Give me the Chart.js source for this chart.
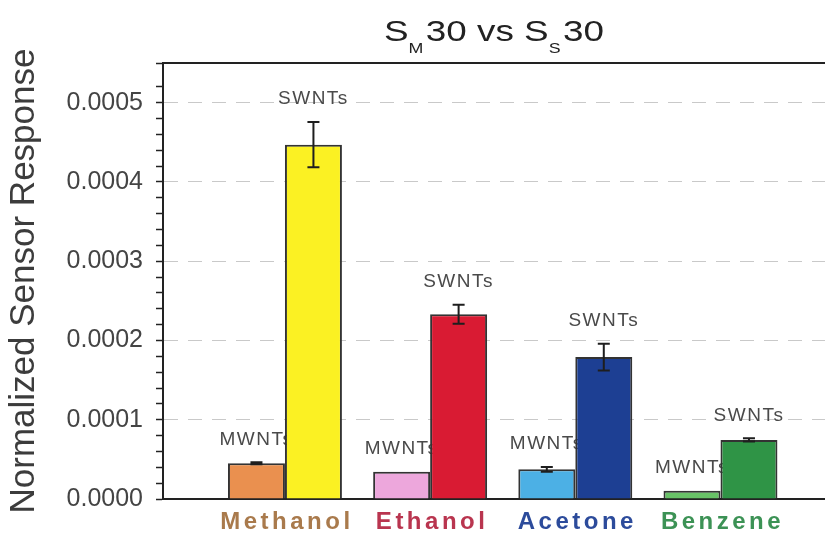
<!DOCTYPE html>
<html>
<head>
<meta charset="utf-8">
<script src="https://cdn.jsdelivr.net/npm/chart.js@4/dist/chart.umd.min.js"></script>
<style>
  html, body { margin: 0; padding: 0; background: #fff; }
  #wrap { width: 825px; height: 535px; position: relative; }
</style>
</head>
<body>
<div id="wrap"><canvas id="sensorChart"></canvas></div>
<script>
const solvents = ['Methanol', 'Ethanol', 'Acetone', 'Benzene'];
const seriesNames = ['MWNTs', 'SWNTs'];

const mwntValues = [0.0000451, 0.0000345, 0.0000375, 0.0000105];
const mwntErrors = [0.0000012, 0, 0.000003, 0];
const swntValues = [0.000447, 0.000233, 0.000179, 0.0000745];
const swntErrors = [0.0000285, 0.000012, 0.000017, 0.000002];

const yLabelTicks = [0, 0.0001, 0.0002, 0.0003, 0.0004, 0.0005];

const solventColors = ['#a97a4c', '#b9354f', '#2c4b9b', '#3c9255'];
const mwntColors = ['#ea904f', '#eda7dc', '#4cb0e5', '#68c267'];
const swntColors = ['#fbf123', '#d91b33', '#1d3f93', '#2f9446'];

const FONT = "'Liberation Sans', Arial, sans-serif";

function isLabelTick(v) {
    return yLabelTicks.some(t => Math.abs(t - v) < 1e-9);
}

// title with subscripts, stretched a little wider
const titlePlugin = {
    id: 'subTitle',
    afterDraw(chart) {
        const ctx = chart.ctx;
        const parts = [
            ['S', false], ['M', true], ['30 vs ', false], ['S', false], ['S', true], ['30', false]
        ];
        const big = '29px ' + FONT, small = '14px ' + FONT;
        ctx.save();
        let w = 0;
        parts.forEach(p => { ctx.font = p[1] ? small : big; w += ctx.measureText(p[0]).width + (p[1] ? 2 : 0); });
        const sx = 1.27;
        const cx = (chart.chartArea.left + chart.chartArea.right) / 2;
        ctx.translate(cx - w * sx / 2, 0);
        ctx.scale(sx, 1);
        ctx.fillStyle = '#222';
        ctx.textBaseline = 'alphabetic';
        let x = 0;
        parts.forEach(p => {
            ctx.font = p[1] ? small : big;
            ctx.fillText(p[0], x, p[1] ? 53 : 41);
            x += ctx.measureText(p[0]).width + (p[1] ? 2 : 0);
        });
        ctx.restore();
    }
};

// top frame line, series labels, error bars and coloured solvent names
const decorPlugin = {
    id: 'decor',
    beforeDatasetsDraw(chart) {
        const {ctx, chartArea} = chart;
        ctx.save();
        ctx.strokeStyle = '#222';
        ctx.lineWidth = 2;
        ctx.beginPath();
        ctx.moveTo(chartArea.left - 1, chartArea.top);
        ctx.lineTo(chartArea.right, chartArea.top);
        ctx.stroke();
        ctx.restore();
        drawSeriesLabels(chart, 0);
    },
    afterDatasetsDraw(chart) {
        const {ctx, scales} = chart;
        drawSeriesLabels(chart, 1);
        ctx.save();
        ctx.strokeStyle = '#1e1e1e';
        ctx.lineWidth = 2;
        chart.data.datasets.forEach((ds, di) => {
            const meta = chart.getDatasetMeta(di);
            meta.data.forEach((bar, i) => {
                const e = ds.errors[i];
                if (!e) return;
                const v = ds.data[i].y;
                const top = scales.y.getPixelForValue(v + e);
                const bot = scales.y.getPixelForValue(v - e);
                ctx.beginPath();
                ctx.moveTo(bar.x, top); ctx.lineTo(bar.x, bot);
                ctx.moveTo(bar.x - 6, top); ctx.lineTo(bar.x + 6, top);
                ctx.moveTo(bar.x - 6, bot); ctx.lineTo(bar.x + 6, bot);
                ctx.stroke();
            });
        });
        ctx.restore();

        ctx.save();
        ctx.font = 'bold 24px ' + FONT;
        ctx.letterSpacing = '3.5px';
        ctx.textAlign = 'center';
        ctx.textBaseline = 'middle';
        solvents.forEach((name, i) => {
            ctx.fillStyle = solventColors[i];
            ctx.fillText(name, scales.x.getPixelForValue(i) + 2, 522);
        });
        ctx.restore();
    }
};

function drawSeriesLabels(chart, di) {
    const {ctx, scales} = chart;
    const ds = chart.data.datasets[di];
    const meta = chart.getDatasetMeta(di);
    ctx.save();
    ctx.font = '19px ' + FONT;
    ctx.letterSpacing = '1.5px';
    ctx.fillStyle = '#4a4a4a';
    ctx.textAlign = 'center';
    ctx.textBaseline = 'middle';
    meta.data.forEach((bar, i) => {
        const y = scales.y.getPixelForValue(ds.data[i].y + ds.errors[i]) - 23;
        ctx.fillText(ds.label, bar.x, y);
    });
    ctx.restore();
}

new Chart(document.getElementById('sensorChart').getContext('2d'), {
    type: 'bar',
    data: {
        datasets: [{
            label: seriesNames[0],
            data: mwntValues.map((v, i) => ({x: i, y: v})),
            errors: mwntErrors,
            backgroundColor: mwntColors,
            borderColor: '#333',
            borderWidth: 2
        }, {
            label: seriesNames[1],
            data: swntValues.map((v, i) => ({x: i, y: v})),
            errors: swntErrors,
            backgroundColor: swntColors,
            borderColor: '#333',
            borderWidth: 2
        }]
    },
    options: {
        responsive: true,
        maintainAspectRatio: false,
        animation: false,
        layout: { padding: { top: 63, bottom: 36, left: 0, right: 0 } },
        datasets: {
            bar: { categoryPercentage: 0.785, barPercentage: 1.0 }
        },
        scales: {
            x: {
                type: 'linear',
                offset: false,
                min: -0.84,
                max: 3.72,
                // one tick per solvent so the bar width follows the solvent spacing
                afterBuildTicks: s => { s.ticks = solvents.map((n, i) => ({value: i})); },
                ticks: { display: false },
                grid: { display: false, drawTicks: false },
                border: { color: '#222', width: 2 },
                afterFit: s => { s.height = 0; }
            },
            y: {
                min: 0,
                max: 0.00055,
                afterFit: s => { s.width = 163; },
                ticks: {
                    stepSize: 0.00002,
                    autoSkip: false,
                    padding: 13,
                    color: '#444',
                    font: { family: FONT, size: 25 },
                    callback: v => isLabelTick(v) ? v.toFixed(4) : ''
                },
                grid: {
                    tickLength: 7,
                    tickWidth: 1.5,
                    tickColor: '#222',
                    tickBorderDash: [],
                    color: c => (c.tick && c.tick.value > 0 && isLabelTick(c.tick.value)) ? '#c9c9c9' : 'rgba(0,0,0,0)'
                },
                border: { color: '#222', width: 2, dash: [14, 10] },
                title: {
                    display: true,
                    text: 'Normalized Sensor Response',
                    color: '#3c3c3c',
                    font: { family: FONT, size: 35 },
                    padding: { top: 3, bottom: 2 }
                }
            }
        },
        plugins: {
            legend: { display: false },
            tooltip: { enabled: false },
            title: { display: false }
        }
    },
    plugins: [titlePlugin, decorPlugin]
});
</script>
</body>
</html>
